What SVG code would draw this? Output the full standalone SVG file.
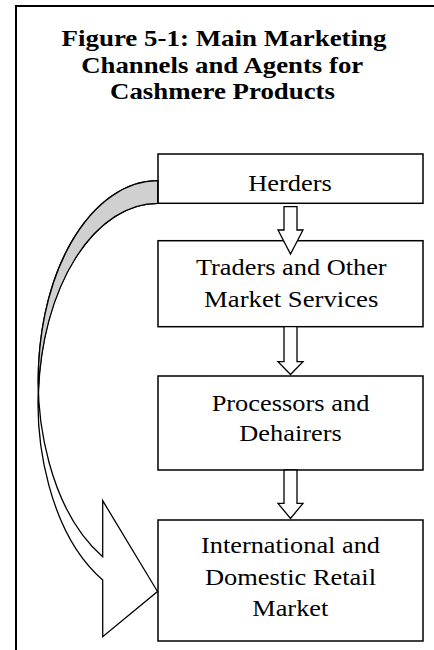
<svg xmlns="http://www.w3.org/2000/svg" width="434" height="650" viewBox="0 0 434 650">
  <style>
    .frame { stroke: #000; stroke-width: 2; fill: none; }
    .box { fill: #fff; stroke: #000; stroke-width: 1.5; }
    text { font-family: 'Liberation Serif', 'Times New Roman', Tinos, Times, serif; fill: #000; text-anchor: middle; }
    .lbl { font-size: 23.5px; }
    .ttl { font-size: 22.5px; font-weight: bold; }
    .blk { fill: #fff; stroke: #000; stroke-width: 1.3; stroke-linejoin: miter; }
    .curve { fill: #fff; stroke: #000; stroke-width: 1.3; stroke-linejoin: miter; }
    .back { fill: #d0d0d0; stroke: #000; stroke-width: 1.3; }
  </style>
  <rect width="434" height="650" fill="#fff"/>
  <g id="frame">
    <path class="frame" d="M16,650 L16,6 L434,6"/>
  </g>
  <g id="title">
    <text class="ttl" x="224" y="45.7" textLength="325" lengthAdjust="spacingAndGlyphs">Figure 5-1: Main Marketing</text>
    <text class="ttl" x="222.2" y="72.5" textLength="282" lengthAdjust="spacingAndGlyphs">Channels and Agents for</text>
    <text class="ttl" x="222.5" y="99.2" textLength="225" lengthAdjust="spacingAndGlyphs">Cashmere Products</text>
  </g>
  <g id="herders">
    <rect class="box" x="158" y="154" width="265" height="49.3"/>
    <text class="lbl" x="290" y="190.7" textLength="83.7" lengthAdjust="spacingAndGlyphs">Herders</text>
  </g>
  <g id="traders">
    <rect class="box" x="158" y="240.7" width="265" height="86"/>
    <text class="lbl" x="291.3" y="275" textLength="190.7" lengthAdjust="spacingAndGlyphs">Traders and Other</text>
    <text class="lbl" x="291.2" y="306.7" textLength="174.3" lengthAdjust="spacingAndGlyphs">Market Services</text>
  </g>
  <g id="processors">
    <rect class="box" x="158" y="376" width="265" height="94"/>
    <text class="lbl" x="290.5" y="410.7" textLength="157.7" lengthAdjust="spacingAndGlyphs">Processors and</text>
    <text class="lbl" x="290.5" y="440.7" textLength="102.4" lengthAdjust="spacingAndGlyphs">Dehairers</text>
  </g>
  <g id="retail">
    <rect class="box" x="158" y="520" width="265" height="121"/>
    <text class="lbl" x="290.5" y="553.3" textLength="179" lengthAdjust="spacingAndGlyphs">International and</text>
    <text class="lbl" x="290.5" y="585" textLength="171" lengthAdjust="spacingAndGlyphs">Domestic Retail</text>
    <text class="lbl" x="290.3" y="616" textLength="76" lengthAdjust="spacingAndGlyphs">Market</text>
  </g>
  <g id="connectors">
    <path class="blk" d="M284,206.7 L297,206.7 L297,230 L303,230 L290.5,254 L278,230 L284,230 Z"/>
    <path class="blk" d="M284,326.7 L297,326.7 L297,361.7 L303,361.7 L290.5,374.5 L278,361.7 L284,361.7 Z"/>
    <path class="blk" d="M284,470 L297,470 L297,503.3 L303,503.3 L290.5,518.5 L278,503.3 L284,503.3 Z"/>
    <path class="curve" d="M157.7,180.7 A119.4,199.2 0 0 0 102.7,556.7 L102.7,500.7 L157.5,591.5 L102.7,636.7 L102.7,580 A119.4,199.5 0 0 1 157.7,203.3 Z"/>
    <path class="back" d="M157.7,180.7 A119.4,199.2 0 0 0 38.5,391.3 A119.4,199.5 0 0 1 157.7,203.3 Z"/>
  </g>
</svg>
